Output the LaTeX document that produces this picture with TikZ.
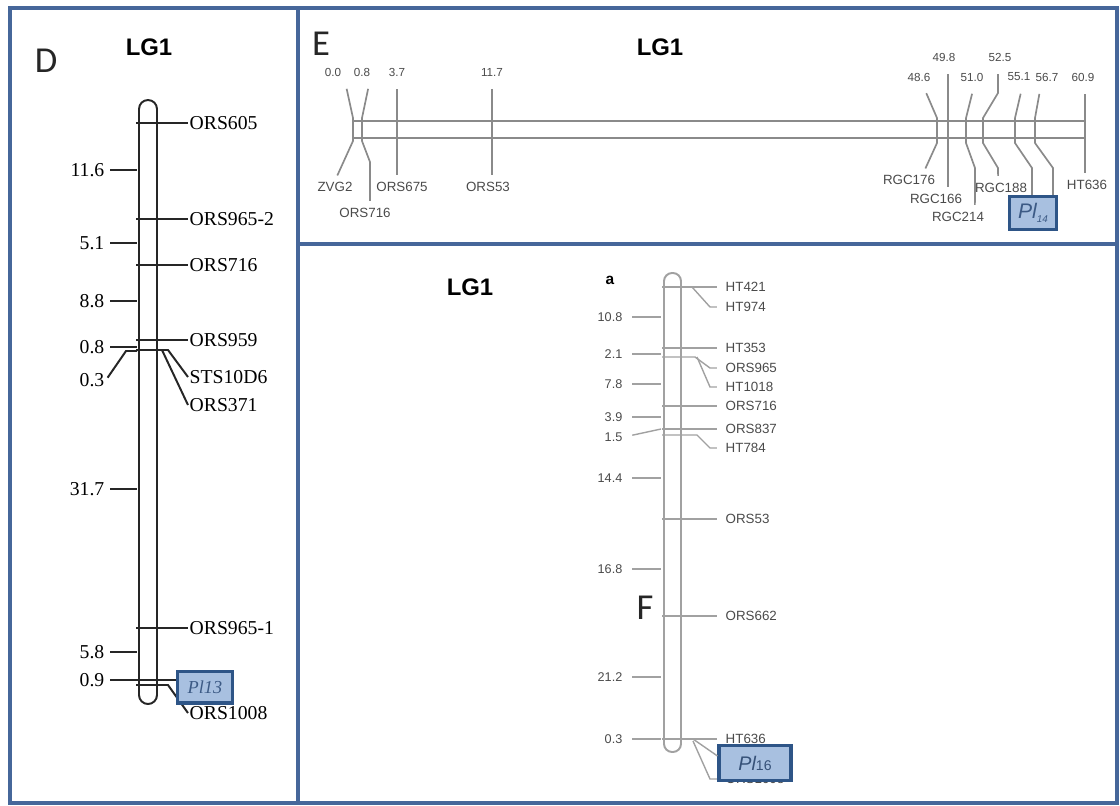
\documentclass[tikz,border=0pt]{standalone}
\usepackage{fontspec}
\setmainfont{Liberation Sans}
\newfontfamily\timesfont{Liberation Serif}
\newfontfamily\calfont{Carlito}
\usetikzlibrary{positioning}
\definecolor{frameblue}{HTML}{46679A}
\definecolor{boxfill}{HTML}{A8C0E0}
\definecolor{boxline}{HTML}{2E5587}
\definecolor{boxtext}{HTML}{3C5A85}
\definecolor{mapgray}{HTML}{8A8A8A}
\definecolor{txtgray}{HTML}{4A4A4A}

\begin{document}
\begin{tikzpicture}[x=0.025cm, y=-0.025cm,
  frame/.style={draw=frameblue, line width=2.8pt},
  panel/.style={font=\calfont\fontsize{26}{26}\selectfont, text=black!85},
  lgone/.style={font=\bfseries\fontsize{17}{17}\selectfont},
  dlbl/.style={font=\timesfont\fontsize{14}{14}\selectfont, inner sep=1pt},
  dline/.style={draw=black!85, line width=1.4pt},
  elbl/.style={font=\fontsize{9.5}{9.5}\selectfont, text=txtgray, inner sep=1pt},
  enum/.style={font=\fontsize{8.3}{8.3}\selectfont, text=txtgray, inner sep=1pt},
  eline/.style={draw=mapgray, line width=1.2pt, shorten <=8pt, shorten >=4pt},
  flbl/.style={font=\fontsize{9.5}{9.5}\selectfont, text=txtgray, inner sep=1pt},
  fnum/.style={font=\fontsize{9}{9}\selectfont, text=txtgray, inner sep=1pt, anchor=east},
  fline/.style={draw=mapgray!80, line width=1pt},
  plbox/.style={draw=boxline, fill=boxfill, line width=2.4pt, text=boxtext, inner sep=0pt},
]
\useasboundingbox (0,0) rectangle (1120,805);

% frames
\draw[frame] (10,8) rectangle (1117,803);
\draw[frame] (298,8) -- (298,803);
\draw[frame] (298,244) -- (1117,244);

% ---------------- panel D
\node[panel] (lblD) at (46,61) {D};
\node[lgone] (lgD) at (149,47) {LG1};
\draw[dline, rounded corners=6.4pt] (139,100) rectangle (157,704);

\node[dlbl, anchor=west] (d605) at (188,123) {ORS605};
\node[dlbl, anchor=west] (d9652) at (188,219) {ORS965-2};
\node[dlbl, anchor=west] (d716) at (188,265) {ORS716};
\node[dlbl, anchor=west] (d959) at (188,340) {ORS959};
\node[dlbl, anchor=west] (d10d6) at (188,377) {STS10D6};
\node[dlbl, anchor=west] (d371) at (188,405) {ORS371};
\node[dlbl, anchor=west] (d9651) at (188,628) {ORS965-1};
\node[dlbl, anchor=west] (d1008) at (188,713) {ORS1008};

\draw[dline] (136,123) -- (d605.west);
\draw[dline] (136,219) -- (d9652.west);
\draw[dline] (136,265) -- (d716.west);
\draw[dline] (136,340) -- (d959.west);
\draw[dline] (136,350) -- (168,350) -- (d10d6.west);
\draw[dline] (162,350) -- (d371.west);
\draw[dline] (136,628) -- (d9651.west);
\draw[dline] (136,685) -- (168,685) -- (d1008.west);

\node[dlbl, anchor=east] (n116) at (106,170) {11.6};
\node[dlbl, anchor=east] (n51) at (106,243) {5.1};
\node[dlbl, anchor=east] (n88) at (106,301) {8.8};
\node[dlbl, anchor=east] (n08) at (106,347) {0.8};
\node[dlbl, anchor=east] (n03) at (106,380) {0.3};
\node[dlbl, anchor=east] (n317) at (106,489) {31.7};
\node[dlbl, anchor=east] (n58) at (106,652) {5.8};
\node[dlbl, anchor=east] (n09) at (106,680) {0.9};

\draw[dline, shorten <=3pt] (n116.east) -- (137,170);
\draw[dline, shorten <=3pt] (n51.east) -- (137,243);
\draw[dline, shorten <=3pt] (n88.east) -- (137,301);
\draw[dline, shorten <=3pt] (n08.east) -- (137,347);
\draw[dline, shorten <=2pt] (n03.east) -- (126,351) -- (137,351);
\draw[dline, shorten <=3pt] (n317.east) -- (137,489);
\draw[dline, shorten <=3pt] (n58.east) -- (137,652);

\node[plbox, minimum width=39.5pt, minimum height=22.5pt,
  font=\timesfont\itshape\fontsize{13}{13}\selectfont] (pl13) at (205,687) {Pl13};
\draw[dline, shorten <=3pt] (n09.east) -- (pl13.west |- n09.east);

% ---------------- panel E
\node[panel] (lblE) at (321,44) {E};
\node[lgone] (lgE) at (660,47) {LG1};
\draw[eline, shorten <=0pt, shorten >=0pt] (353,121) rectangle (1085,138);

\node[enum] (e00) at (333,72) {0.0};
\node[enum] (e08) at (362,72) {0.8};
\node[enum] (e37) at (397,72) {3.7};
\node[enum] (e117) at (492,72) {11.7};
\node[enum] (e486) at (919,77) {48.6};
\node[enum] (e498) at (944,57) {49.8};
\node[enum] (e510) at (972,77) {51.0};
\node[enum] (e525) at (1000,57) {52.5};
\node[enum] (e551) at (1019,77) {55.1};
\node[enum] (e567) at (1047,77) {56.7};
\node[enum] (e609) at (1083,77) {60.9};

\node[elbl] (ezvg) at (335,187) {ZVG2};
\node[elbl] (eo716) at (365,213) {ORS716};
\node[elbl] (eo675) at (402,187) {ORS675};
\node[elbl] (eo53) at (488,187) {ORS53};
\node[elbl] (erg176) at (909,180) {RGC176};
\node[elbl] (erg166) at (936,199) {RGC166};
\node[elbl] (erg214) at (958,217) {RGC214};
\node[elbl] (erg188) at (1001,188) {RGC188};
\node[elbl] (eht636) at (1087,185) {HT636};

\node[plbox, minimum width=33.3pt, minimum height=23.4pt,
  font=\itshape\fontsize{15}{15}\selectfont] (pl14) at (1033,213)
  {Pl\raisebox{-3pt}{\fontsize{7}{7}\selectfont 14}};

\draw[eline] ([xshift=8pt]e00.south) -- (353,118) -- (353,141) -- (ezvg.north);
\draw[eline] ([xshift=6pt]e08.south) -- (362,118) -- (362,141) -- (370,162) -- ([xshift=3.5pt]eo716.north);
\draw[eline] (e37.south) -- (e37.south |- eo675.north);
\draw[eline] (e117.south) -- (e117.south |- eo53.north);
\draw[eline] ([xshift=2pt]e486.south) -- (937,118) -- (937,143) -- ([xshift=10pt]erg176.north);
\draw[eline] ([xshift=3pt]e498.south) -- ([xshift=3pt]e498.south |- erg166.north);
\draw[eline] ([xshift=2pt]e510.south) -- (966,118) -- (966,143) -- (975,168) -- ([xshift=12pt]erg214.north);
\draw[eline] ([xshift=-1.5pt]e525.south) -- (998,93) -- (983,118) -- (983,143) -- (998,168) -- ([xshift=-2pt]erg188.north);
\draw[eline, shorten >=0pt] ([xshift=3pt]e551.south) -- (1015,118) -- (1015,143) -- (1032,168) -- (1032,0 |- pl14.north);
\draw[eline, shorten >=0pt] ([xshift=-4pt]e567.south) -- (1035,118) -- (1035,143) -- (1053,168) -- (1053,0 |- pl14.north);
\draw[eline] ([xshift=1.5pt]e609.south) -- ([xshift=1.5pt]e609.south |- eht636.north);

% ---------------- panel F
\node[lgone] (lgF) at (470,287) {LG1};
\node[font=\bfseries\fontsize{11}{11}\selectfont] (fa) at (610,280) {a};
\node[panel] (lblF) at (645,608) {F};
\draw[fline, line width=1.4pt, rounded corners=5.8pt] (664,273) rectangle (681,752);

\node[flbl, anchor=west] (fht421) at (724,287) {HT421};
\node[flbl, anchor=west] (fht974) at (724,307) {HT974};
\node[flbl, anchor=west] (fht353) at (724,348) {HT353};
\node[flbl, anchor=west] (fo965) at (724,368) {ORS965};
\node[flbl, anchor=west] (fht1018) at (724,387) {HT1018};
\node[flbl, anchor=west] (fo716) at (724,406) {ORS716};
\node[flbl, anchor=west] (fo837) at (724,429) {ORS837};
\node[flbl, anchor=west] (fht784) at (724,448) {HT784};
\node[flbl, anchor=west] (fo53) at (724,519) {ORS53};
\node[flbl, anchor=west] (fo662) at (724,616) {ORS662};
\node[flbl, anchor=west] (fht636) at (724,739) {HT636};
\node[flbl, anchor=west] (fo1008) at (724,779) {ORS1008};

\draw[fline, shorten >=5pt] (662,287) -- (fht421.west);
\draw[fline, shorten >=5pt] (692,287) -- (710,307) -- (fht974.west);
\draw[fline, shorten >=5pt] (662,348) -- (fht353.west);
\draw[fline, shorten >=5pt] (662,357) -- (695,357) -- (710,368) -- (fo965.west);
\draw[fline, shorten >=5pt] (697,357) -- (710,387) -- (fht1018.west);
\draw[fline, shorten >=5pt] (662,406) -- (fo716.west);
\draw[fline, shorten >=5pt] (662,429) -- (fo837.west);
\draw[fline, shorten >=5pt] (662,435) -- (697,435) -- (710,448) -- (fht784.west);
\draw[fline, shorten >=5pt] (662,519) -- (fo53.west);
\draw[fline, shorten >=5pt] (662,616) -- (fo662.west);
\draw[fline, shorten >=5pt] (662,739) -- (fht636.west);
\draw[fline, shorten >=5pt] (693,741) -- (710,779) -- (fo1008.west);

\node[fnum] (f108) at (624,317) {10.8};
\node[fnum] (f21) at (624,354) {2.1};
\node[fnum] (f78) at (624,384) {7.8};
\node[fnum] (f39) at (624,417) {3.9};
\node[fnum] (f15) at (624,437) {1.5};
\node[fnum] (f144) at (624,478) {14.4};
\node[fnum] (f168) at (624,569) {16.8};
\node[fnum] (f212) at (624,677) {21.2};
\node[fnum] (f03) at (624,739) {0.3};

\draw[fline, shorten <=6pt] (f108.east) -- (661,317);
\draw[fline, shorten <=6pt] (f21.east) -- (661,354);
\draw[fline, shorten <=6pt] (f78.east) -- (661,384);
\draw[fline, shorten <=6pt] (f39.east) -- (661,417);
\draw[fline, shorten <=6pt] (f15.east) -- (661,429);
\draw[fline, shorten <=6pt] (f144.east) -- (661,478);
\draw[fline, shorten <=6pt] (f168.east) -- (661,569);
\draw[fline, shorten <=6pt] (f212.east) -- (661,677);
\draw[fline, shorten <=6pt] (f03.east) -- (661,739);

\node[plbox, minimum width=51pt, minimum height=25pt, text=boxtext!90!black] (pl16) at (755,763)
  {{\itshape\fontsize{14}{14}\selectfont Pl}{\fontsize{10}{10}\selectfont 16}\hspace{12pt}};
\draw[fline] (693,739) -- ([yshift=5pt]pl16.west);

\end{tikzpicture}
\end{document}
